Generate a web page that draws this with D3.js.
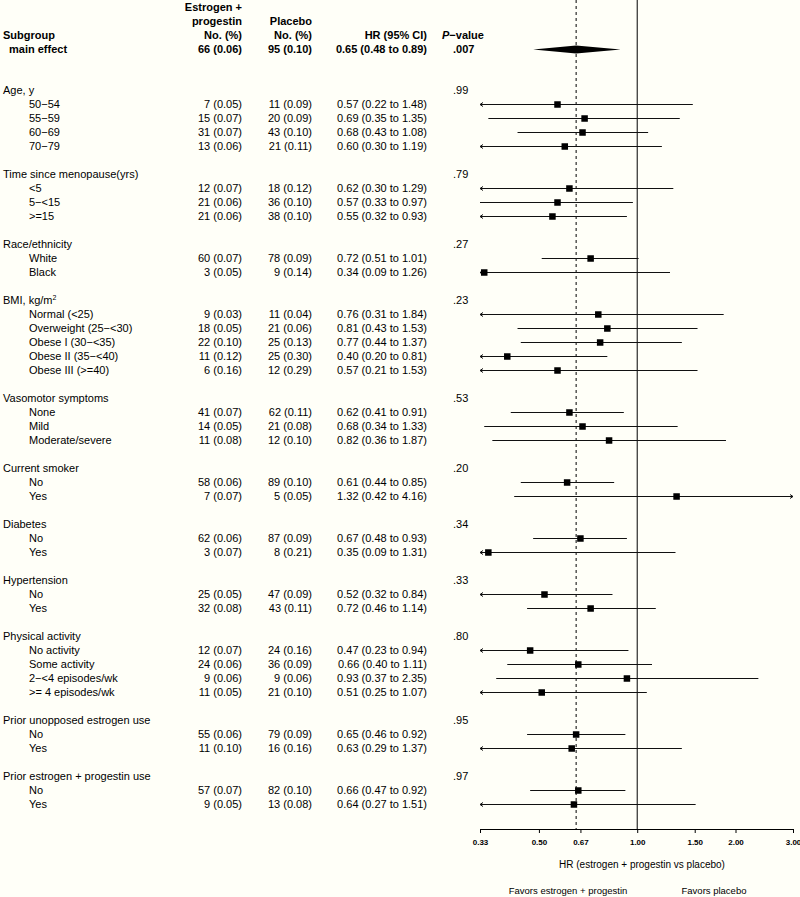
<!DOCTYPE html>
<html><head><meta charset="utf-8">
<script src="https://cdn.jsdelivr.net/npm/d3@7"></script>
<style>
html,body{margin:0;padding:0;background:#fffff8;}
svg{display:block;font-family:"Liberation Sans",Arial,Helvetica,sans-serif;}
</style></head>
<body><svg id="chart" width="800" height="897"></svg>
<script>
// ---- data ----
const groupNames = ["Age, y","Time since menopause(yrs)","Race/ethnicity","BMI, kg/m","Vasomotor symptoms","Current smoker","Diabetes","Hypertension","Physical activity","Prior unopposed estrogen use","Prior estrogen + progestin use"];
const groupP = [".99",".79",".27",".23",".53",".20",".34",".33",".80",".95",".97"];
const rowGroup = [0,0,0,0, 1,1,1, 2,2, 3,3,3,3,3, 4,4,4, 5,5, 6,6, 7,7, 8,8,8,8, 9,9, 10,10];
const rowLabels = ["50−54","55−59","60−69","70−79",
  "<5","5−<15",">=15",
  "White","Black",
  "Normal (<25)","Overweight (25−<30)","Obese I (30−<35)","Obese II (35−<40)","Obese III (>=40)",
  "None","Mild","Moderate/severe",
  "No","Yes",
  "No","Yes",
  "No","Yes",
  "No activity","Some activity","2−<4 episodes/wk",">= 4 episodes/wk",
  "No","Yes",
  "No","Yes"];
const epN   = [7,15,31,13, 12,21,21, 60,3, 9,18,22,11,6, 41,14,11, 58,7, 62,3, 25,32, 12,24,9,11, 55,11, 57,9];
const epPct = [0.05,0.07,0.07,0.06, 0.07,0.06,0.06, 0.07,0.05, 0.03,0.05,0.10,0.12,0.16, 0.07,0.05,0.08, 0.06,0.07, 0.06,0.07, 0.05,0.08, 0.07,0.06,0.06,0.05, 0.06,0.10, 0.07,0.05];
const plN   = [11,20,43,21, 18,36,38, 78,9, 11,21,25,25,12, 62,21,12, 89,5, 87,8, 47,43, 24,36,9,21, 79,16, 82,13];
const plPct = [0.09,0.09,0.10,0.11, 0.12,0.10,0.10, 0.09,0.14, 0.04,0.06,0.13,0.30,0.29, 0.11,0.08,0.10, 0.10,0.05, 0.09,0.21, 0.09,0.11, 0.16,0.09,0.06,0.10, 0.09,0.16, 0.10,0.08];
const hr = [0.57,0.69,0.68,0.60, 0.62,0.57,0.55, 0.72,0.34, 0.76,0.81,0.77,0.40,0.57, 0.62,0.68,0.82, 0.61,1.32, 0.67,0.35, 0.52,0.72, 0.47,0.66,0.93,0.51, 0.65,0.63, 0.66,0.64];
const lo = [0.22,0.35,0.43,0.30, 0.30,0.33,0.32, 0.51,0.09, 0.31,0.43,0.44,0.20,0.21, 0.41,0.34,0.36, 0.44,0.42, 0.48,0.09, 0.32,0.46, 0.23,0.40,0.37,0.25, 0.46,0.29, 0.47,0.27];
const hi = [1.48,1.35,1.08,1.19, 1.29,0.97,0.93, 1.01,1.26, 1.84,1.53,1.37,0.81,1.53, 0.91,1.33,1.87, 0.85,4.16, 0.93,1.31, 0.84,1.14, 0.94,1.11,2.35,1.07, 0.92,1.37, 0.92,1.51];
const mainEffect = {label:"main effect", epN:66, epPct:0.06, plN:95, plPct:0.10, hr:0.65, lo:0.48, hi:0.89, p:".007"};
const axisTicks = [0.33,0.50,0.67,1.00,1.50,2.00,3.00];
const axisTitle = "HR (estrogen + progestin vs placebo)";
const favorsLeft = "Favors estrogen + progestin";
const favorsRight = "Favors placebo";

// ---- layout ----
const svg = d3.select("#chart");
const x = d3.scaleLog().domain([0.33, 3]).range([480, 793]);
const axisY = 829;
const rowStep = 14, firstRowY = 90;
const colLabel = 3, colItem = 29, colEP = 242, colPL = 312, colHR = 427, colP = 453;
const f2 = d3.format(".2f");
const pctTxt = (n, p) => `${n} (${f2(p)})`;
const hrTxt = (h, l, u) => `${f2(h)} (${f2(l)} to ${f2(u)})`;

// build rows with y positions
const rows = [];
let idx = 0;
groupNames.forEach((g, gi) => {
  if (gi > 0) idx++; // blank row
  rows.push({type:"head", gi, y: firstRowY + idx*rowStep});
  idx++;
  rowLabels.forEach((lab, i) => {
    if (rowGroup[i] === gi) {
      rows.push({type:"item", i, y: firstRowY + idx*rowStep});
      idx++;
    }
  });
});

const fs = 11;
function txt(xp, yp, s, anchor, bold) {
  return svg.append("text").attr("x", xp).attr("y", yp).attr("dy", "0.35em")
    .attr("text-anchor", anchor || "start").attr("font-size", fs)
    .attr("font-weight", bold ? "bold" : "normal").attr("fill", "#000").text(s);
}

// reference lines
svg.append("line").attr("x1", x(1)).attr("x2", x(1)).attr("y1", 0).attr("y2", axisY)
  .attr("stroke", "#000").attr("stroke-width", 1);
svg.append("line").attr("x1", x(mainEffect.hr)).attr("x2", x(mainEffect.hr)).attr("y1", 0).attr("y2", axisY)
  .attr("stroke", "#000").attr("stroke-width", 1).attr("stroke-dasharray", "3,3");

// header
txt(colEP, 7.5, "Estrogen +", "end", true);
txt(colEP, 21.5, "progestin", "end", true);
txt(colEP, 35.5, "No. (%)", "end", true);
txt(colPL, 21.5, "Placebo", "end", true);
txt(colPL, 35.5, "No. (%)", "end", true);
txt(colLabel, 35.5, "Subgroup", "start", true);
txt(colHR, 35.5, "HR (95% CI)", "end", true);
const ph = txt(442, 35.5, "", "start", true);
ph.append("tspan").attr("font-style", "italic").text("P");
ph.append("tspan").text("−value");

// main effect
const my = 49.5;
txt(9, my, mainEffect.label, "start", true);
txt(colEP, my, pctTxt(mainEffect.epN, mainEffect.epPct), "end", true);
txt(colPL, my, pctTxt(mainEffect.plN, mainEffect.plPct), "end", true);
txt(colHR, my, hrTxt(mainEffect.hr, mainEffect.lo, mainEffect.hi), "end", true);
txt(colP, my, mainEffect.p, "start", true);
svg.append("path")
  .attr("d", `M${x(mainEffect.lo)},${my} L${x(mainEffect.hr)},${my-4} L${x(mainEffect.hi)},${my} L${x(mainEffect.hr)},${my+4} Z`)
  .attr("fill", "#000");

// rows
const [dMin, dMax] = x.domain();
rows.forEach(r => {
  if (r.type === "head") {
    const t = txt(colLabel, r.y, "", "start", false);
    t.append("tspan").text(groupNames[r.gi]);
    if (groupNames[r.gi] === "BMI, kg/m") {
      t.append("tspan").attr("font-size", 7).attr("dy", "-4").text("2");
    }
    txt(colP, r.y, groupP[r.gi], "start", false);
  } else {
    const i = r.i;
    txt(colItem, r.y, rowLabels[i], "start", false);
    txt(colEP, r.y, pctTxt(epN[i], epPct[i]), "end", false);
    txt(colPL, r.y, pctTxt(plN[i], plPct[i]), "end", false);
    txt(colHR, r.y, hrTxt(hr[i], lo[i], hi[i]), "end", false);
    const x1 = x(Math.max(lo[i], dMin)), x2 = x(Math.min(hi[i], dMax));
    const yy = Math.round(r.y) + 0.5;
    svg.append("line").attr("x1", x1).attr("x2", x2).attr("y1", yy).attr("y2", yy)
      .attr("stroke", "#111").attr("stroke-width", 1);
    if (lo[i] < dMin) {
      svg.append("path").attr("d", `M${x1+3},${yy-2} L${x1},${yy} L${x1+3},${yy+2}`)
        .attr("fill", "none").attr("stroke", "#111").attr("stroke-width", 1);
    }
    if (hi[i] > dMax) {
      svg.append("path").attr("d", `M${x2-3},${yy-2} L${x2},${yy} L${x2-3},${yy+2}`)
        .attr("fill", "none").attr("stroke", "#111").attr("stroke-width", 1);
    }
    const s = 6.5;
    svg.append("rect").attr("x", x(hr[i]) - s/2).attr("y", yy - s/2).attr("width", s).attr("height", s)
      .attr("fill", "#000");
  }
});

// axis
const axis = d3.axisBottom(x).tickValues(axisTicks).tickFormat(f2).tickSize(4).tickSizeOuter(0).tickPadding(6);
const ag = svg.append("g").attr("transform", `translate(0,${axisY})`).call(axis);
ag.selectAll("path,line").attr("stroke", "#000");
ag.selectAll("text").attr("font-size", 8).attr("font-weight", "bold").attr("fill", "#000")
  .attr("font-family", "'Liberation Sans',Arial,sans-serif");

svg.append("text").attr("x", 642).attr("y", 864).attr("dy", "0.35em").attr("text-anchor", "middle")
  .attr("font-size", 10).text(axisTitle);
svg.append("text").attr("x", 568).attr("y", 891).attr("dy", "0.35em").attr("text-anchor", "middle")
  .attr("font-size", 9.5).text(favorsLeft);
svg.append("text").attr("x", 714).attr("y", 891).attr("dy", "0.35em").attr("text-anchor", "middle")
  .attr("font-size", 9.5).text(favorsRight);
</script></body></html>
